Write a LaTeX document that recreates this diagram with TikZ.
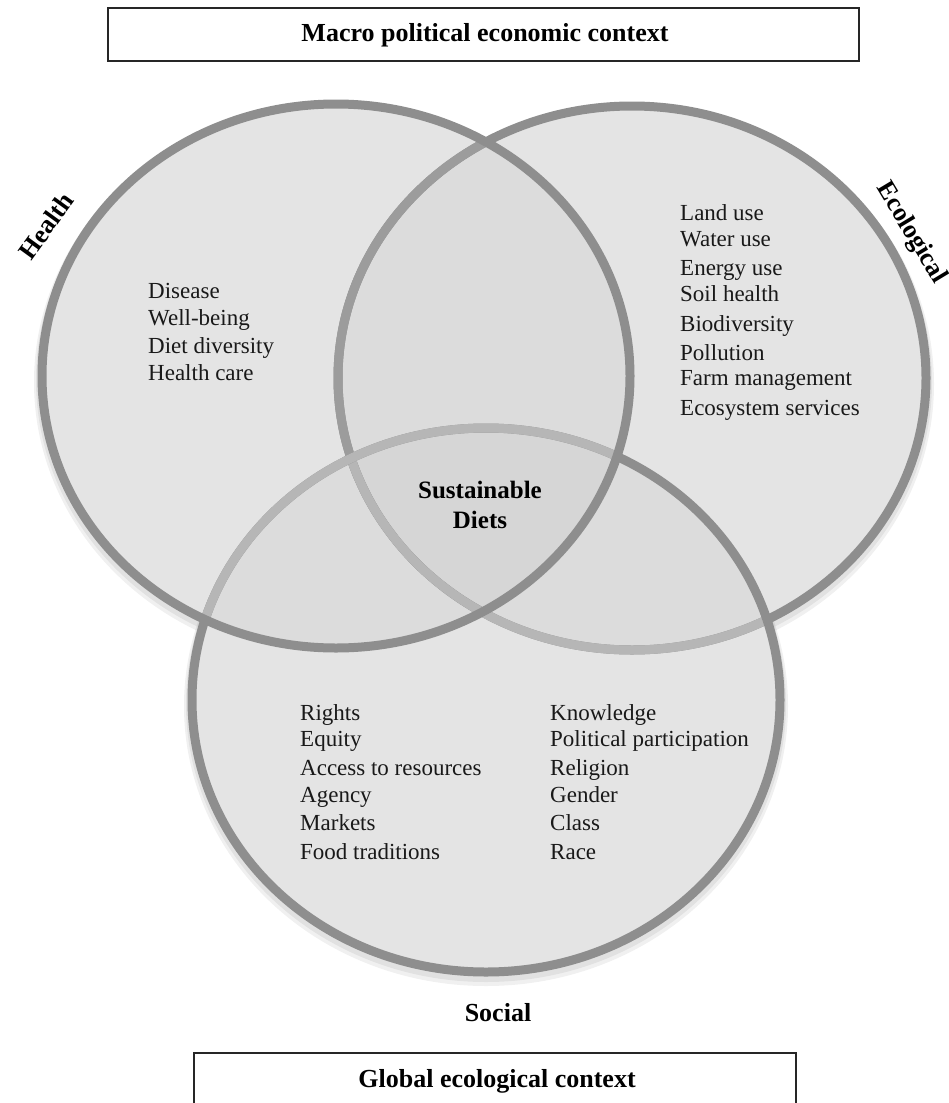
\documentclass[tikz,border=0pt]{standalone}
\usepackage{fontspec}
\setmainfont{Liberation Serif}
\definecolor{fillA}{HTML}{E4E4E4}
\definecolor{fillB}{HTML}{DCDCDC}
\definecolor{fillC}{HTML}{D6D6D6}
\definecolor{strDark}{HTML}{8E8E8E}
\definecolor{strMid}{HTML}{9C9C9C}
\definecolor{strLight}{HTML}{B6B6B6}
\begin{document}
\begin{tikzpicture}[x=1pt,y=-1pt,
  txt/.style={font=\fontsize{23}{27}\selectfont, anchor=base west, inner sep=0pt, text=black!90},
  lbl/.style={font=\bfseries\fontsize{26}{30}\selectfont, inner sep=0pt},
  ctxbox/.style={draw=black!85, line width=1.8pt},
  ring/.style={line width=9pt},
  shadowring/.style={line width=12pt, draw=black, opacity=0.06},
]
\def\rx{294pt}\def\ry{272pt}
\useasboundingbox (0,0) rectangle (949,1103);
\fill[white] (0,0) rectangle (949,1103);

% context boxes
\draw[ctxbox] (108,8) rectangle (859,61);
\node[lbl] (macro) at (485,35) {Macro political economic context};
\draw[ctxbox] (194,1053) rectangle (796,1120);
\node[lbl] (global) at (497,1081) {Global ecological context};

% centres
\coordinate (hc) at (336,376);
\coordinate (ec) at (632,378);
\coordinate (sc) at (486,700);

% shadows
\foreach \c in {hc,ec,sc}{
  \draw[shadowring] ([yshift=-4pt]\c) ellipse [x radius=\rx, y radius=\ry];
  \draw[shadowring, line width=16pt] ([yshift=-6pt]\c) ellipse [x radius=\rx, y radius=\ry];
}

% fills
\fill[fillA] (hc) ellipse [x radius=\rx, y radius=\ry];
\fill[fillA] (ec) ellipse [x radius=\rx, y radius=\ry];
\fill[fillA] (sc) ellipse [x radius=\rx, y radius=\ry];
\begin{scope}
  \clip (hc) ellipse [x radius=\rx, y radius=\ry];
  \fill[fillB] (ec) ellipse [x radius=\rx, y radius=\ry];
  \fill[fillB] (sc) ellipse [x radius=\rx, y radius=\ry];
\end{scope}
\begin{scope}
  \clip (ec) ellipse [x radius=\rx, y radius=\ry];
  \fill[fillB] (sc) ellipse [x radius=\rx, y radius=\ry];
\end{scope}
\begin{scope}
  \clip (hc) ellipse [x radius=\rx, y radius=\ry];
  \clip (ec) ellipse [x radius=\rx, y radius=\ry];
  \fill[fillC] (sc) ellipse [x radius=\rx, y radius=\ry];
\end{scope}

% strokes: ecological
\draw[ring, strDark] (ec) ellipse [x radius=\rx, y radius=\ry];
\begin{scope}
  \clip (hc) ellipse [x radius=\rx, y radius=\ry];
  \draw[ring, strMid] (ec) ellipse [x radius=\rx, y radius=\ry];
\end{scope}
\begin{scope}
  \clip (sc) ellipse [x radius=\rx, y radius=\ry];
  \draw[ring, strLight] (ec) ellipse [x radius=\rx, y radius=\ry];
\end{scope}
% social
\draw[ring, strDark] (sc) ellipse [x radius=\rx, y radius=\ry];
\begin{scope}
  \clip (hc) ellipse [x radius=\rx, y radius=\ry];
  \draw[ring, strLight] (sc) ellipse [x radius=\rx, y radius=\ry];
\end{scope}
% health
\draw[ring, strDark] (hc) ellipse [x radius=\rx, y radius=\ry];

% circle labels
\node[lbl, rotate=54] (healthlbl) at (46,226) {Health};
\node[lbl, rotate=-59] (ecolbl) at (911,233) {Ecological};
\node[lbl] (sociallbl) at (498,1013) {Social};
\node[lbl, align=center, font=\bfseries\fontsize{25}{30}\selectfont] (sd) at (480,505) {Sustainable\\Diets};

% health list
\node[txt] (h1) at (148,298) {Disease};
\node[txt] (h2) at (148,325.5) {Well-being};
\node[txt] (h3) at (148,353) {Diet diversity};
\node[txt] (h4) at (148,380.5) {Health care};

% ecological list
\node[txt] (e1) at (680,220) {Land use};
\node[txt] (e2) at (680,246) {Water use};
\node[txt] (e3) at (680,275) {Energy use};
\node[txt] (e4) at (680,301) {Soil health};
\node[txt] (e5) at (680,331) {Biodiversity};
\node[txt] (e6) at (680,360) {Pollution};
\node[txt] (e7) at (680,385) {Farm management};
\node[txt] (e8) at (680,415) {Ecosystem services};

% social lists
\node[txt] (s1) at (300,720) {Rights};
\node[txt] (s2) at (300,746) {Equity};
\node[txt] (s3) at (300,775) {Access to resources};
\node[txt] (s4) at (300,802) {Agency};
\node[txt] (s5) at (300,830) {Markets};
\node[txt] (s6) at (300,859) {Food traditions};
\node[txt] (t1) at (550,720) {Knowledge};
\node[txt] (t2) at (550,746) {Political participation};
\node[txt] (t3) at (550,775) {Religion};
\node[txt] (t4) at (550,802) {Gender};
\node[txt] (t5) at (550,830) {Class};
\node[txt] (t6) at (550,859) {Race};
\end{tikzpicture}
\end{document}
